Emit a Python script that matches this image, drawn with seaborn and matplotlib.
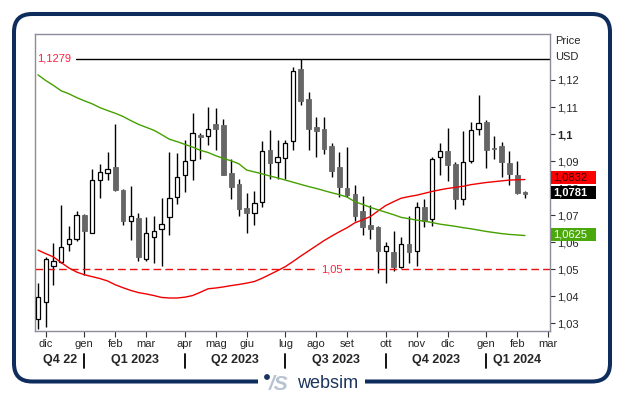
import numpy as np
import pandas as pd
import seaborn as sns
import matplotlib.pyplot as plt
import matplotlib.dates as mdates
import matplotlib.transforms as mtransforms
from matplotlib.patches import FancyBboxPatch, Rectangle, Circle

# weekly candles, each bar dated on the friday of its week
first_week = "2022-11-25"

opens = [1.0315, 1.0381, 1.0514, 1.0527, 1.0593, 1.0611, 1.0700, 1.0635, 1.0832, 1.0857,
         1.0877, 1.0793, 1.0679, 1.0689, 1.0539, 1.0618, 1.0648, 1.0694, 1.0766, 1.0847,
         1.0904, 1.0995, 1.0993, 1.1037, 1.1032, 1.0855, 1.0815, 1.0726, 1.0709, 1.0749,
         1.0943, 1.0897, 1.0911, 1.0973, 1.1239, 1.1128, 1.1025, 1.1017, 1.0956, 1.0879,
         1.0800, 1.0778, 1.0716, 1.0665, 1.0657, 1.0566, 1.0564, 1.0507, 1.0593, 1.0566,
         1.0729, 1.0685, 1.0914, 1.0936, 1.0889, 1.0761, 1.0901, 1.1017, 1.1044, 1.0949,
         1.0956, 1.0892, 1.0847, 1.0783]
highs = [1.0450, 1.0546, 1.0596, 1.0736, 1.0660, 1.0714, 1.0704, 1.0870, 1.0889, 1.0934,
         1.1037, 1.0796, 1.0808, 1.0707, 1.0692, 1.0699, 1.0763, 1.0934, 1.0929, 1.0978,
         1.1079, 1.1003, 1.1099, 1.1096, 1.1054, 1.0907, 1.0833, 1.0783, 1.0788, 1.0975,
         1.1015, 1.0978, 1.0978, 1.1247, 1.1279, 1.1155, 1.1064, 1.1064, 1.0966, 1.0934,
         1.0951, 1.0810, 1.0771, 1.0736, 1.0660, 1.0601, 1.0640, 1.0620, 1.0697, 1.0749,
         1.0759, 1.0916, 1.0966, 1.1022, 1.0897, 1.1010, 1.1044, 1.1145, 1.1052, 1.0993,
         1.0970, 1.0938, 1.0901, 1.0790]
lows = [1.0278, 1.0287, 1.0441, 1.0522, 1.0568, 1.0603, 1.0480, 1.0633, 1.0763, 1.0830,
        1.0790, 1.0665, 1.0608, 1.0532, 1.0532, 1.0522, 1.0512, 1.0628, 1.0741, 1.0786,
        1.0830, 1.0909, 1.0960, 1.0943, 1.0847, 1.0759, 1.0699, 1.0633, 1.0665, 1.0731,
        1.0835, 1.0835, 1.0833, 1.0941, 1.1108, 1.0943, 1.0914, 1.0926, 1.0842, 1.0768,
        1.0768, 1.0679, 1.0628, 1.0613, 1.0485, 1.0448, 1.0495, 1.0505, 1.0522, 1.0514,
        1.0655, 1.0662, 1.0850, 1.0827, 1.0722, 1.0739, 1.0892, 1.0995, 1.0874, 1.0909,
        1.0842, 1.0813, 1.0778, 1.0763]
closes = [1.0396, 1.0537, 1.0529, 1.0581, 1.0613, 1.0702, 1.0642, 1.0830, 1.0860, 1.0870,
          1.0793, 1.0677, 1.0697, 1.0546, 1.0633, 1.0642, 1.0667, 1.0763, 1.0840, 1.0899,
          1.1003, 1.0990, 1.1020, 1.1020, 1.0850, 1.0803, 1.0724, 1.0707, 1.0746, 1.0936,
          1.0892, 1.0914, 1.0968, 1.1232, 1.1123, 1.1017, 1.1012, 1.0946, 1.0864, 1.0803,
          1.0773, 1.0697, 1.0655, 1.0650, 1.0568, 1.0588, 1.0509, 1.0593, 1.0564, 1.0729,
          1.0679, 1.0909, 1.0938, 1.0884, 1.0761, 1.0897, 1.1015, 1.1040, 1.0943, 1.0945,
          1.0897, 1.0852, 1.0783, 1.0781]

# moving averages
ma_red = [1.0571, 1.0558, 1.0546, 1.0525, 1.0505, 1.0490, 1.0480, 1.0473, 1.0466, 1.0457,
          1.0443, 1.0432, 1.0422, 1.0414, 1.0409, 1.0403, 1.0396, 1.0394, 1.0394, 1.0397,
          1.0403, 1.0415, 1.0428, 1.0431, 1.0435, 1.0440, 1.0444, 1.0449, 1.0455, 1.0467,
          1.0481, 1.0495, 1.0510, 1.0529, 1.0549, 1.0568, 1.0587, 1.0606, 1.0623, 1.0639,
          1.0654, 1.0672, 1.0683, 1.0695, 1.0716, 1.0736, 1.0750, 1.0763, 1.0769, 1.0774,
          1.0781, 1.0788, 1.0794, 1.0799, 1.0803, 1.0807, 1.0813, 1.0817, 1.0821, 1.0824,
          1.0827, 1.0830, 1.0831, 1.0832]
ma_green = [1.1219, 1.1198, 1.1180, 1.1160, 1.1149, 1.1135, 1.1123, 1.1112, 1.1098, 1.1087,
            1.1077, 1.1065, 1.1050, 1.1036, 1.1025, 1.1014, 1.0998, 1.0981, 1.0972, 1.0962,
            1.0952, 1.0940, 1.0932, 1.0920, 1.0910, 1.0901, 1.0890, 1.0867, 1.0860, 1.0853,
            1.0845, 1.0838, 1.0830, 1.0822, 1.0814, 1.0806, 1.0799, 1.0791, 1.0783, 1.0776,
            1.0767, 1.0750, 1.0740, 1.0729, 1.0720, 1.0711, 1.0702, 1.0692, 1.0687, 1.0682,
            1.0678, 1.0673, 1.0667, 1.0663, 1.0659, 1.0654, 1.0650, 1.0645, 1.0640, 1.0636,
            1.0632, 1.0629, 1.0627, 1.0625]

month_labels = ["dic", "gen", "feb", "mar", "apr", "mag", "giu", "lug",
                "ago", "set", "ott", "nov", "dic", "gen", "feb", "mar"]
quarter_labels = ["Q4 22", "Q1 2023", "Q2 2023", "Q3 2023", "Q4 2023", "Q1 2024"]
price_ticks = [1.03, 1.04, 1.05, 1.06, 1.07, 1.08, 1.09, 1.10, 1.11, 1.12]
high_level = 1.1279
support_level = 1.05


def fmt(v, nd=None):
    s = f"{v:.{nd}f}" if nd else f"{v:g}"
    return s.replace(".", ",")


sns.set_style("white")
plt.rcParams["font.family"] = ["Liberation Sans", "DejaVu Sans"]

dates = pd.date_range(first_week, periods=len(opens), freq="W-FRI")
df = pd.DataFrame({"open": opens, "high": highs, "low": lows, "close": closes,
                   "ma_red": ma_red, "ma_green": ma_green})
df["x"] = mdates.date2num(dates.to_pydatetime())

# first weekly bar of every month, run a little past the data for the last tick
all_weeks = pd.date_range(first_week, "2024-03-08", freq="W-FRI")
month_starts = all_weeks[all_weeks.day <= 7]
month_x = mdates.date2num(month_starts.to_pydatetime())
quarter_x = month_x[np.isin(month_starts.month, [1, 4, 7, 10])]

fig = plt.figure(figsize=(6.24, 3.98), dpi=100)
ax = fig.add_axes([35 / 624, 1 - 331 / 398, 515 / 624, 297 / 398])

x0 = df["x"].iloc[0]
ax.set_xlim(x0 - 2.7, x0 + 463.7)
ax.set_ylim(1.0272, 1.1370)

# candles
ax.vlines(df["x"], df["low"], df["high"], color="black", lw=1.0, zorder=2)
up = df["close"] >= df["open"]
mid = (df["open"] + df["close"]) / 2
body_h = np.maximum((df["close"] - df["open"]).abs(), 0.0006)
ax.bar(df["x"][up], body_h[up], bottom=(mid - body_h / 2)[up], width=3.9,
       facecolor="white", edgecolor="black", lw=0.9, zorder=3)
ax.bar(df["x"][~up], body_h[~up], bottom=(mid - body_h / 2)[~up], width=4.2,
       facecolor="#666666", edgecolor="#666666", lw=0.6, zorder=3)

# moving averages
sns.lineplot(data=df, x="x", y="ma_red", color="#f00000", lw=1.0, ax=ax, zorder=4)
sns.lineplot(data=df, x="x", y="ma_green", color="#45a000", lw=1.0, ax=ax, zorder=4)
ax.set_xlabel("")
ax.set_ylabel("")

tr_ay = mtransforms.blended_transform_factory(ax.transAxes, ax.transData)

# horizontal levels
ax.axhline(high_level, xmin=0.08, xmax=1, color="black", lw=1.0, zorder=2)
ax.text(0.004, high_level, fmt(high_level, 4), transform=tr_ay, color="#ff2040",
        fontsize=8, va="center", ha="left")
ax.axhline(support_level, color="#e81010", lw=1.0, ls=(0, (5.5, 3)), zorder=2)
ax.text(0.576, support_level, fmt(support_level), transform=tr_ay, color="#ff2040",
        fontsize=8, va="center", ha="center", zorder=5,
        bbox=dict(facecolor="white", edgecolor="none", pad=1.5))

# axes look
ax.yaxis.tick_right()
ax.set_yticks(price_ticks)
ax.set_yticklabels([fmt(v) for v in price_ticks])
for lab, v in zip(ax.get_yticklabels(), price_ticks):
    if abs(v - 1.10) < 1e-9:
        lab.set_fontweight("bold")
        lab.set_fontsize(9.5)
ax.tick_params(axis="y", direction="out", length=3.5, width=0.8, color="#333333",
               labelsize=8, pad=1.5, right=True, left=False)
ax.set_xticks(month_x)
ax.set_xticklabels(month_labels)
ax.tick_params(axis="x", direction="out", length=4, width=0.8, color="#333333",
               labelsize=8, pad=1.5, bottom=True)
for sp in ax.spines.values():
    sp.set_color("#8c8c9c")
    sp.set_linewidth(1.0)
ax.grid(False)

# value tags on the right
px_unit = (1.1370 - 1.0272) / 297


def tag(value, face, tcolor, weight, dy):
    half = 6.5 * px_unit
    yc = value + dy * px_unit
    ax.add_patch(Rectangle((1.001, yc - half), 45 / 515, 2 * half, transform=tr_ay,
                           facecolor=face, edgecolor="none", clip_on=False, zorder=6))
    ax.text(1.001 + 2.5 / 515, yc, fmt(value, 4), transform=tr_ay, color=tcolor,
            fontsize=8, fontweight=weight, va="center", ha="left", clip_on=False, zorder=7)


tag(ma_red[-1], "#ff0000", "#330000", "normal", 1.6)
tag(closes[-1], "black", "white", "bold", 1.0)
tag(ma_green[-1], "#4aa80a", "white", "normal", 0.6)

fig.text(555 / 624, 1 - 41.5 / 398, "Price", fontsize=8, va="center", ha="left")
fig.text(555 / 624, 1 - 57 / 398, "USD", fontsize=8, va="center", ha="left")

# quarter row under the months
tr_q = mtransforms.blended_transform_factory(ax.transData, fig.transFigure)
edges = np.concatenate([[ax.get_xlim()[0]], quarter_x, [month_x[-1]]])
for lab, a, b in zip(quarter_labels, edges[:-1], edges[1:]):
    ax.text((a + b) / 2, 1 - 360 / 398, lab, transform=tr_q, fontsize=9,
            fontweight="bold", ha="center", va="center", clip_on=False)
for q in quarter_x:
    ax.plot([q, q], [1 - 354 / 398, 1 - 368 / 398], transform=tr_q, color="black",
            lw=1.3, clip_on=False)

# outer frame with logo
ov = fig.add_axes([0, 0, 1, 1], zorder=10)
ov.set_xlim(0, 624)
ov.set_ylim(398, 0)
ov.axis("off")
ov.patch.set_alpha(0)
ov.add_patch(FancyBboxPatch((14, 14), 596, 367.5, boxstyle="round,pad=0,rounding_size=18",
                            fill=False, edgecolor="#0f2d5c", lw=2.9))
ov.add_patch(Rectangle((258, 375), 107, 14, facecolor="white", edgecolor="none", zorder=3))
ov.add_patch(Circle((267, 377), 2.2, color="#1b355f", zorder=4))
ov.text(269, 384, "/S", fontsize=15, style="italic", fontweight="bold", color="#b7c2d2",
        va="center", ha="left", zorder=4)
ov.text(297, 383.5, "websim", fontsize=13, color="#1b355f", va="center", ha="left", zorder=4)

fig.savefig("out.png", dpi=100, facecolor="white")
